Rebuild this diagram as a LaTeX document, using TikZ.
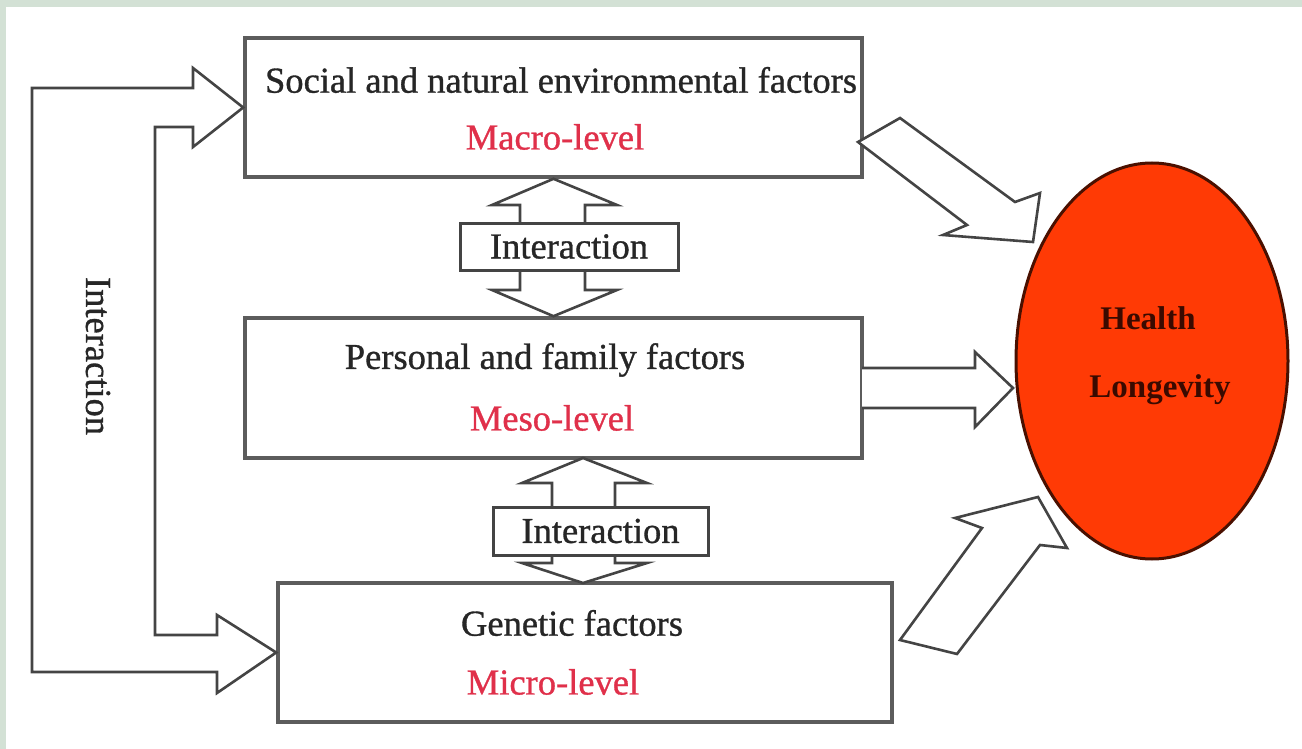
\documentclass[tikz,border=0pt]{standalone}
\usepackage{fontspec}
\usepackage{graphicx}
\setmainfont{Liberation Serif}
\newfontfamily\heavyserif[FakeBold=0.9]{Liberation Serif}
\usetikzlibrary{shapes.geometric}
\definecolor{bggreen}{HTML}{D3E1D5}
\definecolor{boxline}{HTML}{5C5C5C}
\definecolor{arrline}{HTML}{444444}
\definecolor{lvlred}{HTML}{E0304A}
\definecolor{ellred}{HTML}{FF3A05}
\definecolor{elledge}{HTML}{4A1000}
\definecolor{elltext}{HTML}{3A0A00}
\begin{document}
\begin{tikzpicture}[x=1pt,y=-1pt,
  factorbox/.style={rectangle, draw=boxline, line width=3.6pt, fill=white, inner sep=0pt},
  interbox/.style={rectangle, draw=arrline, line width=3pt, fill=white, inner sep=0pt,
    font=\heavyserif\fontsize{36.5}{40}\selectfont, text=black!85},
  blockarrow/.style={draw=arrline, line width=2.6pt, line join=miter, fill=white},
  txt/.style={font=\heavyserif\fontsize{36.5}{40}\selectfont, text=black!85, inner sep=0pt},
  lvl/.style={txt, text=lvlred},
  elltxt/.style={font=\bfseries\fontsize{33}{36}\selectfont, text=elltext, inner sep=0pt}]
\useasboundingbox (0,0) rectangle (1302,749);
\fill[white] (0,0) rectangle (1302,749);
\fill[bggreen] (0,0) rectangle (1302,7);
\fill[bggreen] (0,0) rectangle (6,749);

% factor boxes
\node[factorbox, minimum width=617pt, minimum height=139pt] (top) at (553.5,107.5) {};
\node[factorbox, minimum width=617pt, minimum height=140pt] (mid) at (553.5,388) {};
\node[factorbox, minimum width=614pt, minimum height=139pt] (bot) at (585,652.5) {};

\node[txt] (topt) at (561,80) {Social and natural environmental factors};
\node[lvl] (topl) at (555,137) {Macro-level};
\node[txt] (midt) at (545,360) {Personal and family factors};
\node[lvl] (midl) at (552,418) {Meso-level};
\node[txt] (bott) at (572,623) {Genetic factors};
\node[lvl] (botl) at (553,682) {Micro-level};

% left interaction arrow
\draw[blockarrow] (32,672) -- (32,88) -- (193,88) -- (193,68) -- (top.west) -- (193,147)
  -- (193,127) -- (155,127) -- (155,635) -- (217,635) -- (217,615) -- (bot.west)
  -- (217,693) -- (217,672) -- cycle;
\node[txt, rotate=-90] (lint) at (98,356) {Interaction};

% double arrows between boxes
\draw[blockarrow] (top.south) -- (617,205) -- (585,205) -- (585,290) -- (617,290)
  -- (mid.north) -- (492,290) -- (520,290) -- (520,205) -- (492,205) -- cycle;
\node[interbox, minimum width=218pt, minimum height=47pt] (ia) at (569,246.5) {Interaction};
\draw[blockarrow] (583,458) -- (647,483) -- (615,483) -- (615,563) -- (647,563)
  -- (583,583) -- (522,563) -- (552,563) -- (552,483) -- (522,483) -- cycle;
\node[interbox, minimum width=215pt, minimum height=48pt] (ib) at (600.5,531) {Interaction};

% arrows to the outcome
\draw[blockarrow] (858,142) -- (900,118) -- (1015,202) -- (1040,193) -- (1033,242)
  -- (943,235) -- (967,225) -- cycle;
\draw[blockarrow] (862,368) -- (975,368) -- (975,352) -- (1013,388) -- (975,427)
  -- (975,408) -- (862,408);
\draw[blockarrow] (900,640) -- (957,654) -- (1040,545) -- (1067,548) -- (1038,497)
  -- (955,518) -- (982,528) -- cycle;

% outcome
\node[ellipse, draw=elledge, line width=3pt, fill=ellred, minimum width=272pt,
  minimum height=396pt, inner sep=0pt] (hl) at (1152,361) {};
\node[elltxt] (hl1) at (1148,318) {Health};
\node[elltxt] (hl2) at (1160,390) {Longevity};
\end{tikzpicture}
\end{document}
